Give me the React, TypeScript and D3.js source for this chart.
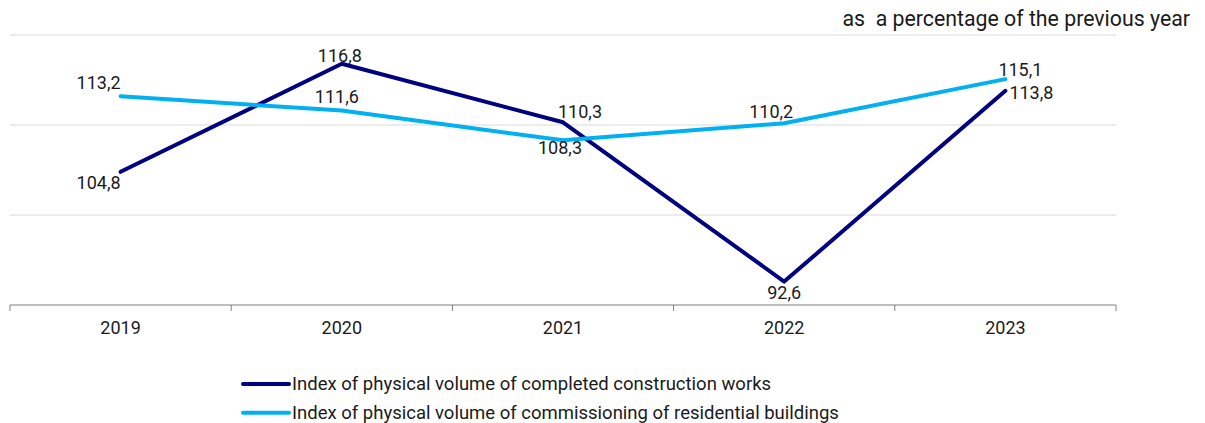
import React from "react";
import * as d3 from "d3";

const years = ["2019", "2020", "2021", "2022", "2023"];
const constructionWorks = [104.8, 116.8, 110.3, 92.6, 113.8];
const residentialCommissioning = [113.2, 111.6, 108.3, 110.2, 115.1];
const seriesNames = [
  "Index of physical volume of completed construction works",
  "Index of physical volume of commissioning of residential buildings",
];
const yGridValues = [90, 100, 110, 120];
const unitNote = "as  a percentage of the previous year";

// label placement relative to each point (dx, dy of text centre)
const constructionLabelOffsets = [
  [-22, 11],
  [-2, -8],
  [17, -11],
  [0, 11],
  [26, 2],
];
const residentialLabelOffsets = [
  [-22, -14],
  [-5, -14],
  [-3, 7],
  [-13, -12],
  [15, -10],
];

const W = 1205;
const H = 423;
const FONT = "Roboto, 'Noto Sans', sans-serif";
const DARK = "#000080";
const LIGHT = "#00B0F0";

export default function App() {
  const x = d3.scaleBand<string>().domain(years).range([10, 1116]).padding(0);
  const y = d3.scaleLinear().domain([90, 120]).range([305, 35]);
  const cx = (d: string) => (x(d) ?? 0) + x.bandwidth() / 2;

  const line = d3
    .line<number>()
    .x((_, i) => cx(years[i]))
    .y((v) => y(v));

  const fmt = (v: number) => v.toFixed(1).replace(".", ",");

  const series = [
    { values: constructionWorks, color: DARK, offsets: constructionLabelOffsets },
    { values: residentialCommissioning, color: LIGHT, offsets: residentialLabelOffsets },
  ];

  const tickXs = [...years.map((d) => x(d) ?? 0), 1116];

  return (
    <svg
      width={W}
      height={H}
      style={{ position: "absolute", left: 0, top: 0, background: "#fff" }}
      fontFamily={FONT}
    >
      <text
        x={1190}
        y={25.5}
        textAnchor="end"
        fontSize={21.3}
        fill="#1a1a1a"
        style={{ whiteSpace: "pre" }}
      >
        {unitNote}
      </text>

      {yGridValues.slice(1).map((v) => (
        <line key={v} x1={10} x2={1116} y1={y(v)} y2={y(v)} stroke="#d9d9d9" strokeWidth={1} />
      ))}

      <line x1={10} x2={1116} y1={y(90)} y2={y(90)} stroke="#7f7f7f" strokeWidth={1} />
      {tickXs.map((t, i) => (
        <line key={i} x1={t} x2={t} y1={y(90)} y2={y(90) + 6} stroke="#7f7f7f" strokeWidth={1} />
      ))}
      {years.map((d) => (
        <text key={d} x={cx(d)} y={334} textAnchor="middle" fontSize={18} fill="#1a1a1a">
          {d}
        </text>
      ))}

      {series.map((s, si) => (
        <path
          key={si}
          d={line(s.values) ?? ""}
          fill="none"
          stroke={s.color}
          strokeWidth={4}
          strokeLinejoin="round"
          strokeLinecap="round"
        />
      ))}

      {series.map((s, si) =>
        s.values.map((v, i) => (
          <text
            key={`${si}-${i}`}
            x={cx(years[i]) + s.offsets[i][0]}
            y={y(v) + s.offsets[i][1]}
            textAnchor="middle"
            dominantBaseline="central"
            fontSize={18}
            fill="#1a1a1a"
          >
            {fmt(v)}
          </text>
        ))
      )}

      {series.map((s, si) => {
        const ly = 384 + si * 28.7;
        return (
          <g key={si}>
            <line x1={243} x2={289} y1={ly} y2={ly} stroke={s.color} strokeWidth={4} strokeLinecap="round" />
            <text x={292} y={ly} dominantBaseline="central" fontSize={18.5} fill="#1a1a1a">
              {seriesNames[si]}
            </text>
          </g>
        );
      })}
    </svg>
  );
}
